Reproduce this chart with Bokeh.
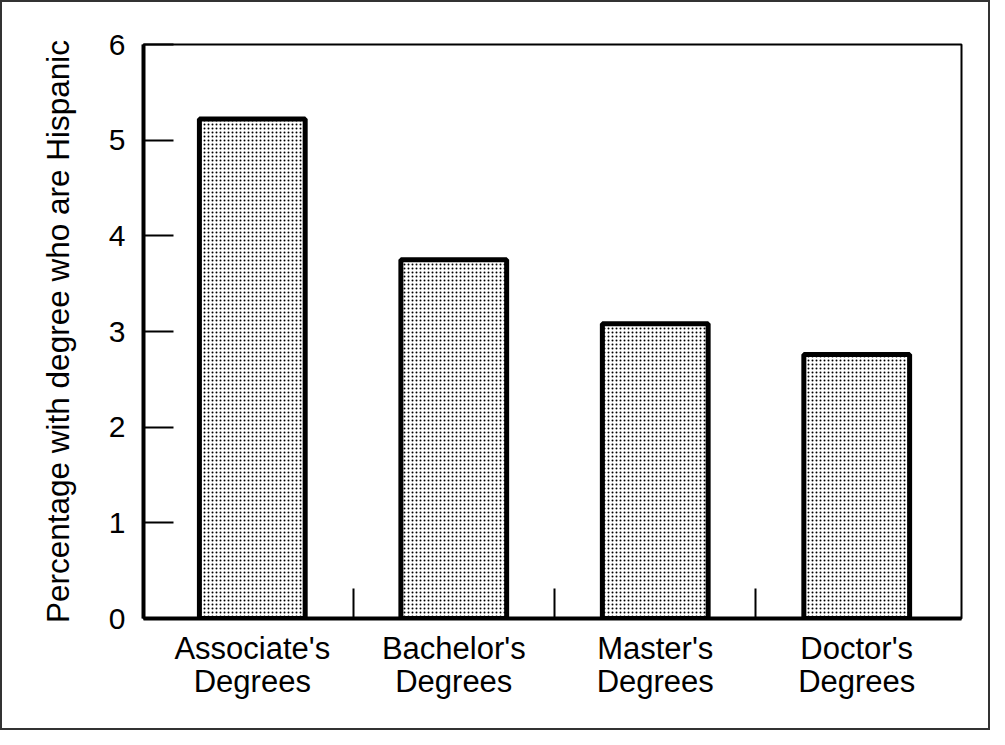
from bokeh.plotting import figure
from bokeh.models import Range1d, FixedTicker, ColumnDataSource
from bokeh.embed import file_html
from bokeh.resources import INLINE

categories = ["Associate's\nDegrees", "Bachelor's\nDegrees", "Master's\nDegrees", "Doctor's\nDegrees"]
values = [5.22, 3.75, 3.08, 2.76]
y_ticks = [0, 1, 2, 3, 4, 5, 6]
y_label = "Percentage with degree who are Hispanic"

positions = [i + 0.5 for i in range(len(categories))]
separators = [i for i in range(1, len(categories))]

FONT = "Liberation Sans"

p = figure(width=990, height=730, output_backend="svg", toolbar_location=None,
           x_range=Range1d(-0.04, 4.02), y_range=Range1d(0, 6),
           min_border_left=141, min_border_top=42, min_border_right=31, min_border_bottom=114)
p.styles = {"border": "2px solid #333333", "box-sizing": "border-box"}

src = ColumnDataSource(dict(x=positions, top=values))
p.vbar(x="x", top="top", bottom=0, width=0.525, source=src,
       fill_color="white", line_color="black", line_width=5,
       hatch_pattern="dot", hatch_scale=4, hatch_weight=2, hatch_color="black")

p.grid.visible = False
p.outline_line_color = "black"
p.outline_line_width = 2

# x axis
xa = p.xaxis[0]
xa.ticker = FixedTicker(ticks=positions, minor_ticks=separators)
xa.major_label_overrides = {pos: lab for pos, lab in zip(positions, categories)}
xa.major_tick_in = 0
xa.major_tick_out = 0
xa.minor_tick_in = 30
xa.minor_tick_out = 0
xa.minor_tick_line_width = 2
xa.minor_tick_line_color = "black"
xa.axis_line_width = 4
xa.axis_line_color = "black"
xa.major_label_text_font = FONT
xa.major_label_text_font_size = "31px"
xa.major_label_text_line_height = 0.95
xa.major_label_text_color = "black"
xa.major_label_standoff = 12

# y axis
ya = p.yaxis[0]
ya.ticker = FixedTicker(ticks=y_ticks)
ya.major_tick_in = 30
ya.major_tick_out = 0
ya.major_tick_line_width = 2
ya.major_tick_line_color = "black"
ya.minor_tick_in = 0
ya.minor_tick_out = 0
ya.axis_line_width = 4
ya.axis_line_color = "black"
ya.major_label_text_font = FONT
ya.major_label_text_font_size = "30px"
ya.major_label_text_color = "black"
ya.major_label_standoff = 18
ya.axis_label = y_label
ya.axis_label_text_font = FONT
ya.axis_label_text_font_size = "31.5px"
ya.axis_label_text_font_style = "normal"
ya.axis_label_text_color = "black"
ya.axis_label_standoff = 30

open("out.html", "w").write(file_html(p, INLINE))
